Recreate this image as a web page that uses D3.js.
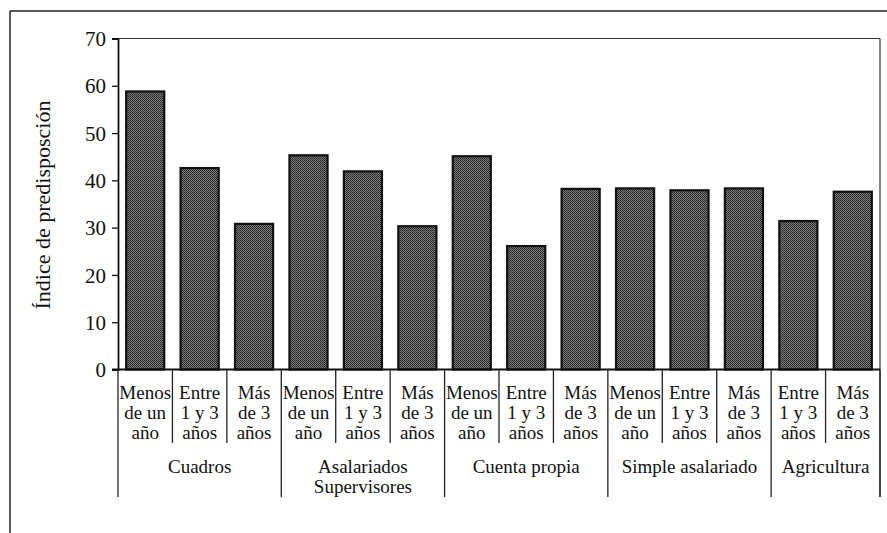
<!DOCTYPE html>
<html>
<head>
<meta charset="utf-8">
<script src="https://cdn.jsdelivr.net/npm/d3@7"></script>
<style>
  html, body { margin: 0; padding: 0; background: #fff; }
  svg { display: block; }
  svg text, svg tspan { font-family: "Liberation Serif", "Times New Roman", serif; fill: #111; }
</style>
</head>
<body>
<svg id="chart" width="887" height="533"></svg>
<script>
// ---- data ----
const groups = ["Cuadros", "Asalariados\nSupervisores", "Cuenta propia", "Simple asalariado", "Agricultura"];
const groupSizes = [3, 3, 3, 3, 2];
const subLabels = [
  "Menos\nde un\naño", "Entre\n1 y 3\naños", "Más\nde 3\naños",
  "Menos\nde un\naño", "Entre\n1 y 3\naños", "Más\nde 3\naños",
  "Menos\nde un\naño", "Entre\n1 y 3\naños", "Más\nde 3\naños",
  "Menos\nde un\naño", "Entre\n1 y 3\naños", "Más\nde 3\naños",
  "Entre\n1 y 3\naños", "Más\nde 3\naños"
];
const values = [58.8, 42.6, 30.8, 45.3, 41.9, 30.3, 45.1, 26.1, 38.2, 38.3, 37.9, 38.3, 31.4, 37.6];
const yTicks = [0, 10, 20, 30, 40, 50, 60, 70];
const yTitle = "Índice de predisposción";

// ---- layout ----
const FONT = "'Liberation Serif', 'Times New Roman', serif";
const svg = d3.select("#chart");
const L = 118, R = 880, T = 38.5, B = 369.5;
const subBottom = 443, groupBottom = 497;

const x = d3.scaleBand().domain(d3.range(values.length)).range([L, R])
  .paddingInner(0.3).paddingOuter(0.15);
const y = d3.scaleLinear().domain([0, 70]).range([B, T]);
const step = x.step();
const boundary = i => L + i * step;

// pattern for halftone look
const defs = svg.append("defs");
const pat = defs.append("pattern").attr("id", "ht").attr("patternUnits", "userSpaceOnUse")
  .attr("width", 2).attr("height", 2);
pat.append("rect").attr("width", 2).attr("height", 2).attr("fill", "#7a7a7a");
pat.append("rect").attr("width", 1).attr("height", 1).attr("fill", "#242424");
pat.append("rect").attr("x", 1).attr("y", 1).attr("width", 1).attr("height", 1).attr("fill", "#343434");

// outer frame
svg.append("line").attr("x1", 10).attr("x2", 887).attr("y1", 11).attr("y2", 11)
  .attr("stroke", "#222").attr("stroke-width", 1.5);
svg.append("line").attr("x1", 10).attr("x2", 10).attr("y1", 11).attr("y2", 533)
  .attr("stroke", "#222").attr("stroke-width", 1.5);

// plot box top and right
svg.append("line").attr("x1", L).attr("x2", R).attr("y1", T).attr("y2", T)
  .attr("stroke", "#333").attr("stroke-width", 1.2);
svg.append("line").attr("x1", R).attr("x2", R).attr("y1", T).attr("y2", groupBottom)
  .attr("stroke", "#333").attr("stroke-width", 1.2);

// bars
svg.append("g").selectAll("rect").data(values).join("rect")
  .attr("x", (d, i) => x(i))
  .attr("y", d => y(d))
  .attr("width", x.bandwidth())
  .attr("height", d => y(0) - y(d))
  .attr("fill", "url(#ht)")
  .attr("stroke", "#111")
  .attr("stroke-width", 2.2);

// y axis
const yAxis = d3.axisLeft(y).tickValues(yTicks).tickSize(6).tickPadding(6).tickFormat(d3.format("d"));
const gy = svg.append("g").attr("transform", `translate(${L},0)`).call(yAxis);
gy.attr("font-family", null).attr("font-size", null);
gy.select(".domain").attr("stroke", "#111").attr("stroke-width", 1.8);
gy.selectAll(".tick line").attr("stroke", "#111").attr("stroke-width", 1.3);
gy.selectAll(".tick text").style("font-family", FONT)
  .style("font-size", "21px").attr("fill", "#111").attr("dy", "0.34em");

// zero line
svg.append("line").attr("x1", L - 6).attr("x2", R).attr("y1", y(0)).attr("y2", y(0))
  .attr("stroke", "#111").attr("stroke-width", 1.8);

// y title
svg.append("text").attr("transform", `translate(50,205) rotate(-90)`)
  .attr("text-anchor", "middle").style("font-family", FONT).style("font-size", "22px").text(yTitle);

// separators
let starts = [0];
groupSizes.forEach((s, i) => starts.push(starts[i] + s));
const groupBoundaries = new Set(starts);
const sep = svg.append("g").attr("stroke", "#222").attr("stroke-width", 1.3);
for (let i = 0; i <= values.length; i++) {
  const bx = boundary(i);
  sep.append("line").attr("x1", bx).attr("x2", bx).attr("y1", y(0))
    .attr("y2", groupBoundaries.has(i) ? groupBottom : subBottom);
}

// sub labels
const sub = svg.append("g").style("font-family", FONT).style("font-size", "19px").attr("text-anchor", "middle");
subLabels.forEach((lab, i) => {
  const cx = boundary(i) + step / 2;
  const t = sub.append("text").attr("x", cx).attr("y", 399).style("font-family", FONT);
  lab.split("\n").forEach((ln, k) => {
    t.append("tspan").attr("x", cx).attr("dy", k === 0 ? 0 : 20).text(ln);
  });
});

// group labels
const gl = svg.append("g").style("font-family", FONT).style("font-size", "19px").attr("text-anchor", "middle");
groups.forEach((g, gi) => {
  const cx = (boundary(starts[gi]) + boundary(starts[gi + 1])) / 2;
  const t = gl.append("text").attr("x", cx).attr("y", 473).style("font-family", FONT);
  g.split("\n").forEach((ln, k) => {
    t.append("tspan").attr("x", cx).attr("dy", k === 0 ? 0 : 20).text(ln);
  });
});
</script>
</body>
</html>
